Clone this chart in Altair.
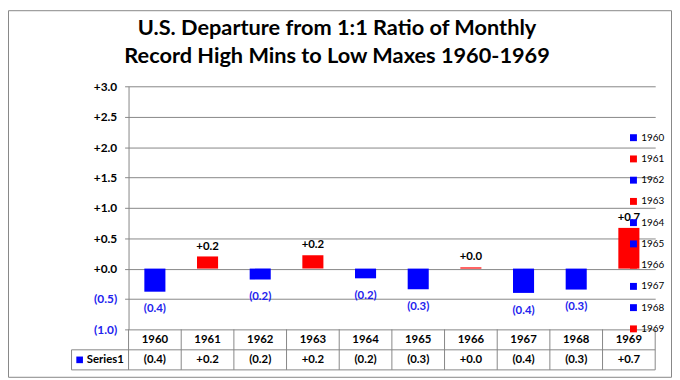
import altair as alt
import pandas as pd

years = ["1960", "1961", "1962", "1963", "1964", "1965", "1966", "1967", "1968", "1969"]
values = [-0.38, 0.20, -0.18, 0.22, -0.16, -0.34, 0.02, -0.40, -0.345, 0.67]
series_name = "Series1"
title_lines = ["U.S. Departure from 1:1 Ratio of Monthly",
               "Record High Mins to Low Maxes 1960-1969"]
y_ticks = [-1.0, -0.5, 0.0, 0.5, 1.0, 1.5, 2.0, 2.5, 3.0]
y_ticks_neg = [-1.0, -0.5]

POS = "#FF0000"
NEG = "#0000FF"
NEG_TEXT = "#2222EE"
GRAY = "#868686"
FONT = "Lato"
colors = [POS if v >= 0 else NEG for v in values]

df = pd.DataFrame({"year": years, "value": values})

W, H = 533, 246
STEP = W / len(years)
PAD = {"left": 122, "top": 77, "right": 17, "bottom": 49}
ROW1_BOT = H + 20.7
ROW2_BOT = H + 41
LEFT_CELL = -57.7

label_expr = ("datum.value >= 0 ? '+' + format(datum.value, '.1f') : "
              "'(' + format(-datum.value, '.1f') + ')'")

xscale = alt.Scale(domain=years, paddingInner=0.6, paddingOuter=0.3)
X = alt.X("year:N", scale=xscale, axis=None)
yscale = alt.Scale(domain=[-1, 3], nice=False, zero=True)
Y_main = alt.Y(
    "value:Q", scale=yscale,
    axis=alt.Axis(
        values=y_ticks, title=None, grid=True, gridColor=GRAY, gridWidth=1, orient="left",
        domainColor=GRAY, tickColor=GRAY, tickSize=4, labelPadding=8,
        labelExpr="datum.value >= 0 ? '+' + format(datum.value, '.1f') : ''",
        labelFont=FONT, labelFontWeight="bold", labelFontSize=12, labelColor="black",
    ),
)
Y_neg = alt.Y(
    "value:Q",
    axis=alt.Axis(
        values=y_ticks_neg, title=None, grid=False, orient="left", domain=False,
        tickColor="transparent", tickSize=4, labelPadding=8,
        labelExpr="'(' + format(-datum.value, '.1f') + ')'",
        labelFont=FONT, labelFontWeight="bold", labelFontSize=12, labelColor=NEG_TEXT,
    ),
)

base = alt.Chart(df).transform_calculate(label=label_expr)

bars = base.mark_bar().encode(
    x=X, y=Y_main,
    color=alt.Color(
        "year:N", scale=alt.Scale(domain=years, range=colors),
        legend=alt.Legend(
            orient="none", legendX=506, legendY=47, title=None, symbolType="square",
            symbolSize=49, symbolStrokeWidth=0, symbolOpacity=1, labelFont=FONT,
            labelFontSize=10, labelColor="black", labelOffset=3, rowPadding=11.5, padding=0,
        ),
    ),
)

pos_labels = base.transform_filter("datum.value >= 0").mark_text(
    baseline="bottom", dy=-5, font=FONT, fontWeight="bold", fontSize=11.5, color="black"
).encode(x=X, y=alt.Y("value:Q", axis=None), text="label:N")

neg_labels = base.transform_filter("datum.value < 0").mark_text(
    baseline="top", dy=12, font=FONT, fontWeight="bold", fontSize=11.5, color=NEG_TEXT
).encode(x=X, y=Y_neg, text="label:N")

head_text = base.mark_text(
    baseline="middle", font=FONT, fontWeight="bold", fontSize=11.5, color="black"
).encode(x=X, y=alt.value((H + ROW1_BOT) / 2), text="year:N")

val_text = base.mark_text(
    baseline="middle", font=FONT, fontWeight="bold", fontSize=11.5, color="black"
).encode(x=X, y=alt.value((ROW1_BOT + ROW2_BOT) / 2), text="label:N")

vlines = base.mark_rule(color=GRAY, strokeWidth=1, xOffset=-STEP / 2).encode(
    x=X, y=alt.value(H), y2=alt.value(ROW2_BOT)
)

one = pd.DataFrame({"s": [series_name]})
right_line = alt.Chart(one).mark_rule(color=GRAY).encode(
    x=alt.value(W), y=alt.value(H), y2=alt.value(ROW2_BOT))
left_line = alt.Chart(one).mark_rule(color=GRAY).encode(
    x=alt.value(LEFT_CELL), y=alt.value(ROW1_BOT), y2=alt.value(ROW2_BOT))
mid_h = alt.Chart(one).mark_rule(color=GRAY).encode(
    x=alt.value(LEFT_CELL), x2=alt.value(W), y=alt.value(ROW1_BOT))
bot_h = alt.Chart(one).mark_rule(color=GRAY).encode(
    x=alt.value(LEFT_CELL), x2=alt.value(W), y=alt.value(ROW2_BOT))

key = alt.Chart(one).mark_square(color=NEG, size=45, opacity=1).encode(
    x=alt.value(-49.5), y=alt.value((ROW1_BOT + ROW2_BOT) / 2))
key_text = alt.Chart(one).mark_text(
    align="left", baseline="middle", font=FONT, fontWeight="bold", fontSize=11.5, color="black"
).encode(x=alt.value(-42.3), y=alt.value((ROW1_BOT + ROW2_BOT) / 2), text="s:N")

title_df = pd.DataFrame({"t": ["\n".join(title_lines)]})
title = alt.Chart(title_df).mark_text(
    align="center", baseline="alphabetic", font=FONT, fontSize=22, fontWeight="bold",
    color="black", lineBreak="\n", lineHeight=28.5,
).encode(x=alt.value(341 - 130), y=alt.value(33 - 85), text="t:N")

bl, br = -PAD["left"] + 0.5, W + PAD["right"] - 0.5
bt, bb = -PAD["top"] + 0.5, H + PAD["bottom"] - 0.5
b_top = alt.Chart(one).mark_rule(color=GRAY).encode(x=alt.value(bl), x2=alt.value(br), y=alt.value(bt))
b_bot = alt.Chart(one).mark_rule(color=GRAY).encode(x=alt.value(bl), x2=alt.value(br), y=alt.value(bb))
b_left = alt.Chart(one).mark_rule(color=GRAY).encode(x=alt.value(bl), y=alt.value(bt), y2=alt.value(bb))
b_right = alt.Chart(one).mark_rule(color=GRAY).encode(x=alt.value(br), y=alt.value(bt), y2=alt.value(bb))

chart = alt.layer(
    bars, neg_labels, pos_labels, vlines, right_line, left_line, mid_h, bot_h,
    head_text, val_text, key, key_text, title, b_top, b_bot, b_left, b_right,
).resolve_axis(y="independent").properties(
    width=W, height=H, padding=PAD,
    autosize=alt.AutoSizeParams(type="none"),
).configure_view(stroke="transparent")

chart.save("out.html", embed_options={"renderer": "svg", "actions": False})
